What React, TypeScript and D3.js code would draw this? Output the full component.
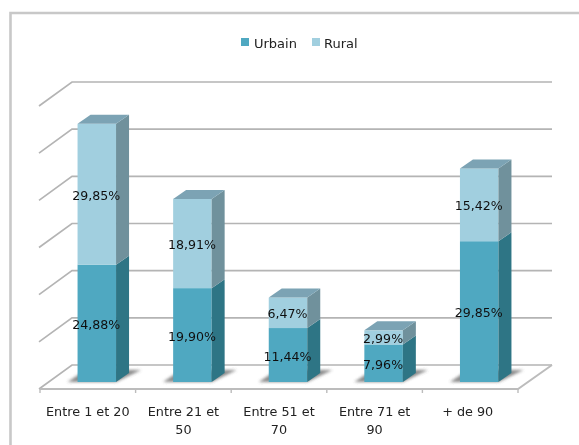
import React from "react";
import * as d3 from "d3";

const categories = ["Entre 1 et 20", "Entre 21 et 50", "Entre 51 et 70", "Entre 71 et 90", "+ de 90"];
const categoryLines = [["Entre 1 et 20"], ["Entre 21 et", "50"], ["Entre 51 et", "70"], ["Entre 71 et", "90"], ["+ de 90"]];
const urbain = [24.88, 19.9, 11.44, 7.96, 29.85];
const rural = [29.85, 18.91, 6.47, 2.99, 15.42];
const ticks = [0, 10, 20, 30, 40, 50, 60];
const FONT = "'DejaVu Sans', sans-serif";

const palette = {
  urbain: { front: "#4fa8c1", side: "#2f7585", top: "#3f8ea3" },
  rural: { front: "#a1cfdf", side: "#6f919c", top: "#7ba3b4" },
};

export default function App() {
  const x = d3.scaleBand<string>().domain(categories).range([40, 518]);
  const y = d3.scaleLinear().domain([0, 60]).range([382, 99]);
  const rows = categories.map((c, i) => ({ c, urbain: urbain[i], rural: rural[i] }));
  const stacked = d3.stack<any>().keys(["urbain", "rural"])(rows);
  const barW = 38.5;
  const dx = 13;
  const dy = 9;
  const wall = { dx: 33, back: -17, front: 7 };

  return (
    <svg
      width={579}
      height={445}
      style={{ position: "fixed", left: 0, top: 0, background: "#fff" }}
      fontFamily={FONT}
    >
      <defs>
        <filter id="soft" x="-5%" y="-5%" width="110%" height="110%">
          <feGaussianBlur stdDeviation="0.7" />
        </filter>
        <filter id="shadow" x="-30%" y="-60%" width="160%" height="220%">
          <feGaussianBlur stdDeviation="1.8" />
        </filter>
      </defs>
      <g filter="url(#soft)">
        <path d="M579,13 H10.5 V445" fill="none" stroke="#c8c8c8" strokeWidth={2.6} />

        {/* back wall and side wall gridlines */}
        {ticks.map((t) => (
          <path
            key={t}
            d={`M${x.range()[0] - 1},${y(t) + wall.front} L${x.range()[0] + wall.dx - 1},${y(t) + wall.back} H${x.range()[1] + wall.dx + 1}`}
            fill="none"
            stroke="#b4b4b4"
            strokeWidth={1.7}
          />
        ))}
        {/* floor */}
        <path
          d={`M${x.range()[0]},${y(0) + wall.front} H${x.range()[1]} L${x.range()[1] + wall.dx + 1},${y(0) + wall.back}`}
          fill="none"
          stroke="#bcbcbc"
          strokeWidth={2}
        />
        {categories.concat("").map((c, i) => {
          const px = x.range()[0] + i * x.step();
          return <line key={i} x1={px} x2={px} y1={y(0) + wall.front} y2={y(0) + wall.front + 4} stroke="#bcbcbc" strokeWidth={1.4} />;
        })}

        {/* bars */}
        {categories.map((c) => {
          const left = x(c)! + x.bandwidth() / 2 + 9 - barW / 2;
          return (
            <path
              key={c}
              d={`M${left - 10},${y(0)} H${left + barW} L${left + barW + dx + 12},${y(0) - dy - 3} H${left + 8} Z`}
              fill="#6e6e6e"
              opacity={0.8}
              filter="url(#shadow)"
            />
          );
        })}
        {stacked.map((s) => {
          const col = palette[s.key as "urbain" | "rural"];
          return (
            <g key={s.key}>
              {s.map((d, i) => {
                const left = x(categories[i])! + x.bandwidth() / 2 + 9 - barW / 2;
                const r = left + barW;
                const y0 = y(d[0]);
                const y1 = y(d[1]);
                return (
                  <g key={i}>
                    <rect x={left} y={y1} width={barW} height={y0 - y1} fill={col.front} />
                    <path d={`M${r},${y1} L${r + dx},${y1 - dy} V${y0 - dy} L${r},${y0} Z`} fill={col.side} />
                    {s.key === "rural" && (
                      <path d={`M${left},${y1} L${left + dx},${y1 - dy} H${r + dx} L${r},${y1} Z`} fill={col.top} />
                    )}
                  </g>
                );
              })}
            </g>
          );
        })}

        {/* value labels */}
        {stacked.map((s) => (
          <g key={s.key}>
            {s.map((d, i) => {
              const left = x(categories[i])! + x.bandwidth() / 2 + 8.5;
              const v = d[1] - d[0];
              return (
                <text
                  key={i}
                  x={left}
                  y={(y(d[0]) + y(d[1])) / 2 + 2}
                  textAnchor="middle"
                  dominantBaseline="middle"
                  fontSize={12.6}
                  fill="#111"
                >
                  {v.toFixed(2).replace(".", ",")}%
                </text>
              );
            })}
          </g>
        ))}

        {/* category labels */}
        {categories.map((c, i) => (
          <text key={c} textAnchor="middle" fontSize={12.8} fill="#222">
            {categoryLines[i].map((line, j) => (
              <tspan key={j} x={x(c)! + x.bandwidth() / 2 - (i === 4 ? 2.5 : 0)} y={416 + j * 18}>
                {line}
              </tspan>
            ))}
          </text>
        ))}

        {/* legend */}
        <rect x={241} y={38} width={8} height={8} fill={palette.urbain.front} />
        <text x={254} y={47.5} fontSize={13} fill="#222">Urbain</text>
        <rect x={312} y={38} width={8} height={8} fill={palette.rural.front} />
        <text x={324} y={47.5} fontSize={13} fill="#222">Rural</text>
      </g>
    </svg>
  );
}
